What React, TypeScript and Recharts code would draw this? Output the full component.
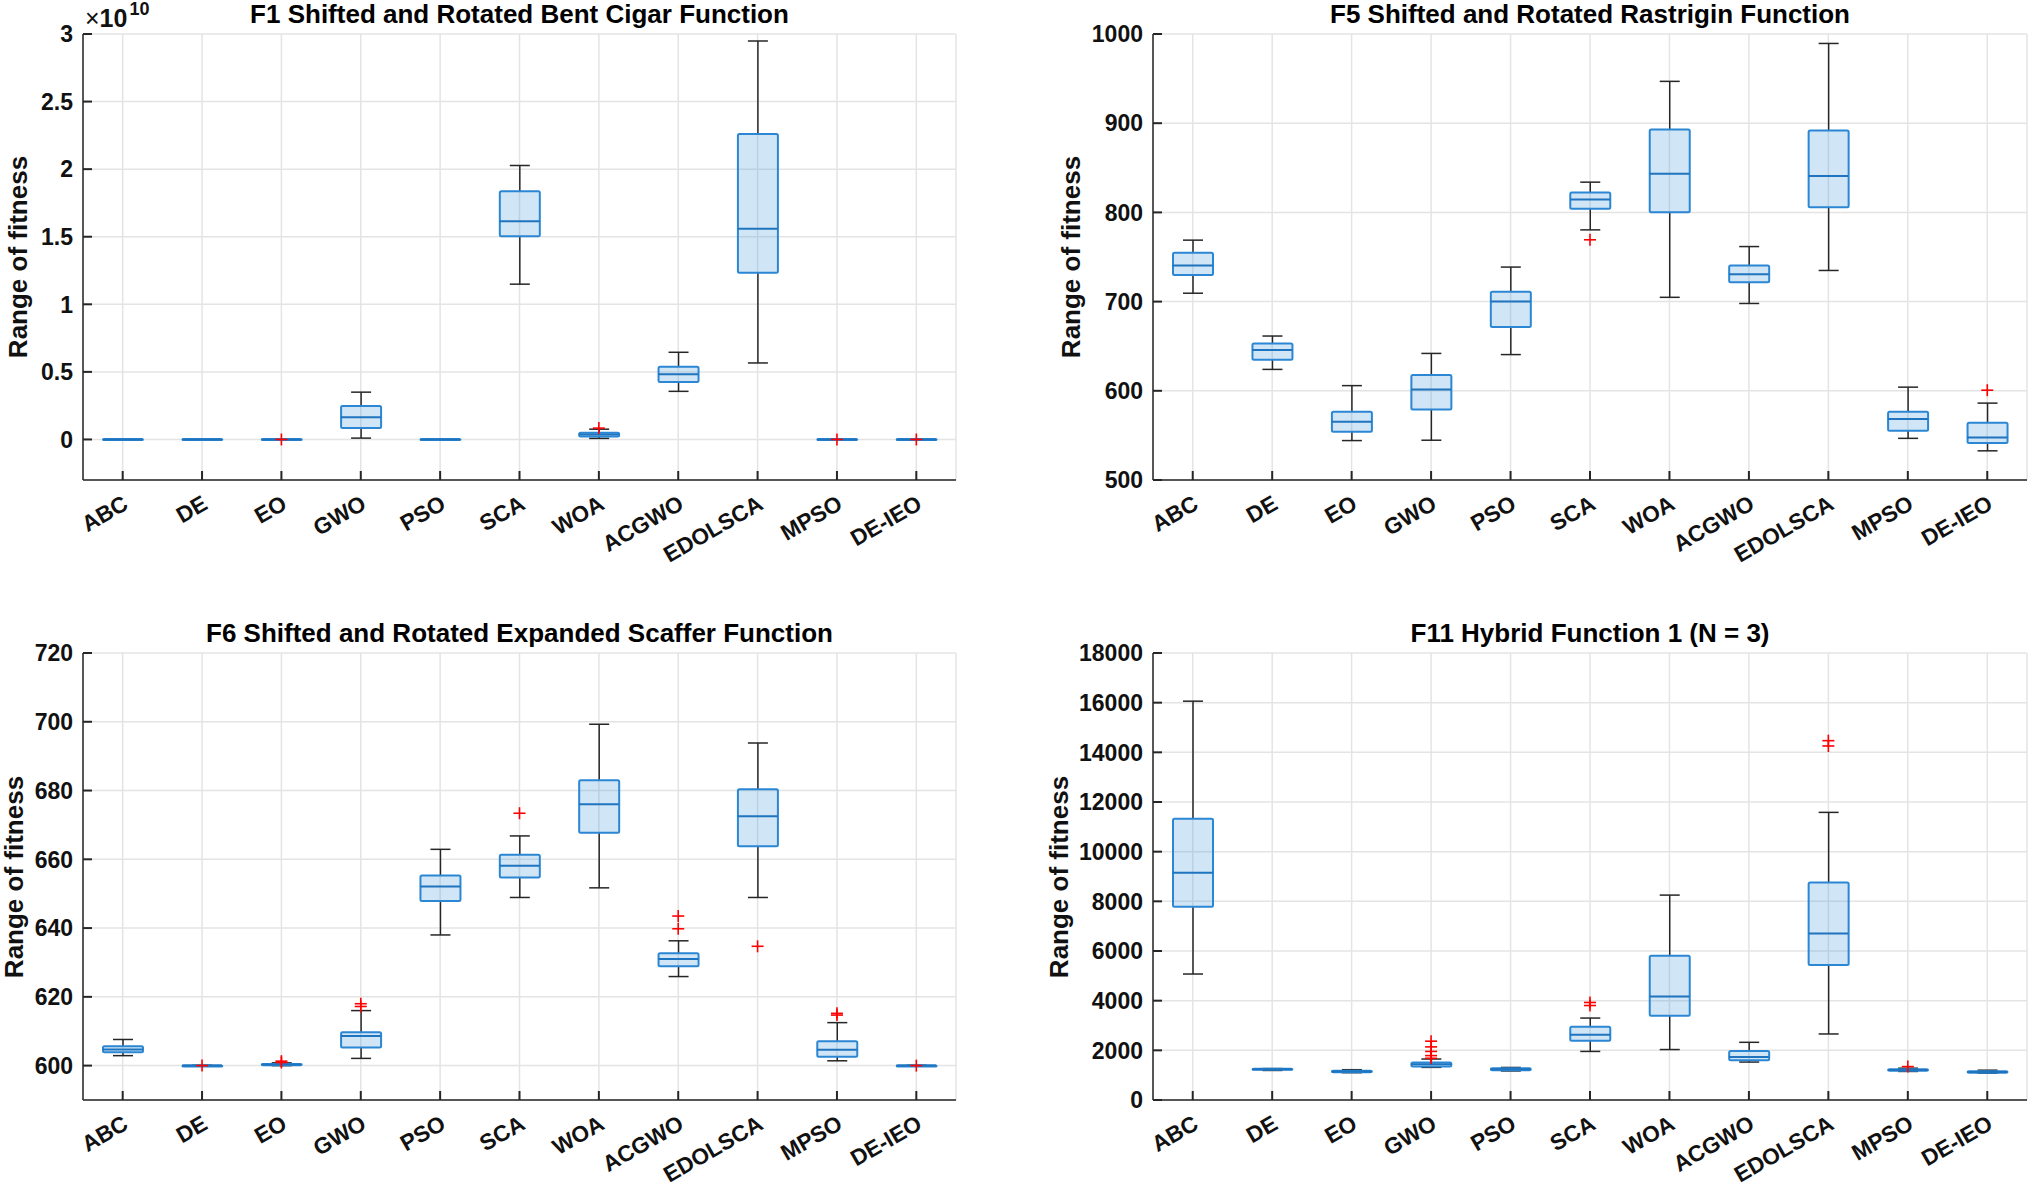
import React from "react";
import { ComposedChart, Bar, Scatter, XAxis, YAxis, CartesianGrid } from "recharts";

const categories = ["ABC", "DE", "EO", "GWO", "PSO", "SCA", "WOA", "ACGWO", "EDOLSCA", "MPSO", "DE-IEO"];

// F1 values are in units of 1e10
const f1Min = [-0.004, -0.004, -0.004, 0.01, -0.004, 1.149, 0.008, 0.356, 0.566, -0.004, -0.004];
const f1Q1 = [-0.003, -0.003, -0.003, 0.084, -0.003, 1.503, 0.022, 0.426, 1.233, -0.003, -0.003];
const f1Med = [0, 0, 0, 0.165, 0, 1.615, 0.036, 0.482, 1.559, 0, 0];
const f1Q3 = [0.003, 0.003, 0.003, 0.247, 0.003, 1.836, 0.05, 0.538, 2.26, 0.003, 0.003];
const f1Max = [0.004, 0.004, 0.004, 0.35, 0.004, 2.027, 0.076, 0.645, 2.949, 0.004, 0.004];
const f1Outliers = [[], [], [0], [], [], [], [0.084], [], [], [0], [0]];
const f1Ticks = [0, 0.5, 1, 1.5, 2, 2.5, 3];

const f5Min = [709.4, 624.0, 544.2, 544.6, 640.6, 780.4, 704.8, 697.9, 734.9, 546.7, 532.7];
const f5Q1 = [729.8, 634.7, 554.0, 579.0, 671.6, 804.2, 800.3, 721.8, 805.9, 555.2, 541.6];
const f5Med = [740.4, 645.7, 565.4, 601.5, 700.1, 814.4, 843.2, 730.7, 840.7, 568.4, 547.6];
const f5Q3 = [754.9, 652.9, 576.5, 617.7, 711.1, 822.4, 892.9, 740.4, 891.7, 576.5, 564.2];
const f5Max = [768.9, 661.4, 605.8, 641.9, 738.7, 833.9, 946.9, 761.7, 989.4, 604.1, 586.2];
const f5Outliers = [[], [], [], [], [], [769.3], [], [], [], [], [600.7]];
const f5Ticks = [500, 600, 700, 800, 900, 1000];

const f6Min = [602.9, 599.9, 600.0, 602.1, 638.0, 648.9, 651.7, 625.9, 648.9, 601.4, 599.9];
const f6Q1 = [603.9, 599.95, 600.1, 605.3, 647.9, 654.7, 667.7, 628.9, 663.8, 602.6, 599.95];
const f6Med = [604.7, 600, 600.3, 608.6, 652.1, 658.1, 676.0, 631.0, 672.5, 604.6, 600];
const f6Q3 = [605.6, 600.05, 600.5, 609.7, 655.3, 661.3, 683.0, 632.7, 680.4, 607.1, 600.05];
const f6Max = [607.6, 600.1, 600.8, 616.0, 662.9, 666.8, 699.3, 636.3, 693.8, 612.5, 600.1];
const f6Outliers = [[], [600], [601.3, 600.9], [618.0, 617.2], [], [673.4], [], [643.5, 639.8], [634.7], [615.2, 614.7], [600]];
const f6Ticks = [600, 620, 640, 660, 680, 700, 720];

const f11Min = [5073, 1190, 1100, 1314, 1170, 1956, 2032, 1528, 2659, 1150, 1080];
const f11Q1 = [7778, 1215, 1120, 1345, 1200, 2384, 3392, 1604, 5440, 1180, 1100];
const f11Med = [9153, 1235, 1150, 1436, 1240, 2628, 4171, 1727, 6708, 1210, 1130];
const f11Q3 = [11323, 1255, 1180, 1513, 1275, 2949, 5806, 1971, 8755, 1240, 1160];
const f11Max = [16060, 1265, 1220, 1650, 1310, 3300, 8251, 2323, 11582, 1280, 1200];
const f11Outliers = [[], [], [], [2368, 2139, 1956, 1788, 1681], [], [3927, 3805], [], [], [14470, 14256], [1345], []];
const f11Ticks = [0, 2000, 4000, 6000, 8000, 10000, 12000, 14000, 16000, 18000];

const FONT = "'Liberation Sans', Arial, sans-serif";
const AXIS = "#262626";
const GRID = "#e4e4e4";
const BLUE = "#2b87d3";

const WhiskerShape = (p: any) => {
  const { x, y, width, height, payload } = p;
  const top = Math.min(y, y + height);
  const bot = Math.max(y, y + height);
  const [lo, hi] = payload.whisker;
  const pix = (v: number) => bot - ((v - lo) / (hi - lo)) * (bot - top);
  const cx = x + width / 2;
  return (
    <g>
      <line x1={cx} x2={cx} y1={top} y2={pix(payload.q3)} stroke={AXIS} strokeWidth={1.5} />
      <line x1={cx} x2={cx} y1={pix(payload.q1)} y2={bot} stroke={AXIS} strokeWidth={1.5} />
      <line x1={x} x2={x + width} y1={top} y2={top} stroke={AXIS} strokeWidth={1.5} />
      <line x1={x} x2={x + width} y1={bot} y2={bot} stroke={AXIS} strokeWidth={1.5} />
    </g>
  );
};

const BoxShape = (p: any) => {
  const { x, y, width, height } = p;
  const top = Math.min(y, y + height);
  const h = Math.max(Math.abs(height), 1);
  return <rect x={x} y={top} width={width} height={h} fill={BLUE} fillOpacity={0.22} stroke={BLUE} strokeWidth={2} rx={1.5} />;
};

const MedianShape = (p: any) => {
  const { cx, cy } = p;
  return <line x1={cx - 20} x2={cx + 20} y1={cy} y2={cy} stroke="#1f74c0" strokeWidth={2} />;
};

const PlusShape = (p: any) => {
  const { cx, cy } = p;
  return (
    <g stroke="#ff0000" strokeWidth={1.6}>
      <line x1={cx - 6} x2={cx + 6} y1={cy} y2={cy} />
      <line x1={cx} x2={cx} y1={cy - 6} y2={cy + 6} />
    </g>
  );
};

const LeftTick = (p: any) => {
  const { x, y, payload } = p;
  return (
    <g>
      <line x1={x + 10} x2={x + 19} y1={y} y2={y} stroke={AXIS} strokeWidth={2} />
      <text x={x} y={y} dy="0.36em" textAnchor="end" fontFamily={FONT} fontWeight="bold" fontSize={23} fill="#111">
        {payload.value}
      </text>
    </g>
  );
};

const RightTick = (p: any) => {
  const { x, y } = p;
  return <line x1={x} x2={x - 9} y1={y} y2={y} stroke={AXIS} strokeWidth={2} />;
};

const BottomTick = (p: any) => {
  const { x, y, payload } = p;
  return (
    <g>
      <line x1={x} x2={x} y1={y} y2={y - 9} stroke={AXIS} strokeWidth={2} />
      <text
        transform={`translate(${x + 7},${y + 28}) rotate(-30)`}
        textAnchor="end"
        fontFamily={FONT}
        fontWeight="bold"
        fontSize={22.5}
        fill="#111"
      >
        {payload.value}
      </text>
    </g>
  );
};

const TopTick = (p: any) => {
  const { x, y } = p;
  return <line x1={x} x2={x} y1={y} y2={y + 9} stroke={AXIS} strokeWidth={2} />;
};

type PanelProps = {
  title: string;
  left: number;
  top: number;
  width: number;
  height: number;
  margin: { top: number; right: number; bottom: number; left: number };
  yAxisWidth: number;
  xAxisHeight: number;
  labelX: number;
  mins: number[];
  q1s: number[];
  meds: number[];
  q3s: number[];
  maxs: number[];
  outliers: number[][];
  domain: [number, number];
  ticks: number[];
  exponent?: boolean;
};

function Panel(props: PanelProps) {
  const { title, left, top, width, height, margin, yAxisWidth, xAxisHeight, labelX, domain, ticks } = props;
  const data = categories.map((name, i) => ({
    name,
    whisker: [props.mins[i], props.maxs[i]],
    box: [props.q1s[i], props.q3s[i]],
    q1: props.q1s[i],
    q3: props.q3s[i],
    med: props.meds[i],
  }));
  const outlierData = categories.flatMap((name, i) => props.outliers[i].map((v) => ({ name, out: v })));

  const plotLeft = left + margin.left + yAxisWidth;
  const plotRight = left + width - margin.right;
  const plotTop = top + margin.top;
  const plotBottom = top + height - margin.bottom - xAxisHeight;

  return (
    <>
      <div
        style={{
          position: "absolute",
          left: plotLeft,
          width: plotRight - plotLeft,
          top: plotTop - 33,
          textAlign: "center",
          fontFamily: FONT,
          fontWeight: "bold",
          fontSize: 26,
          lineHeight: "26px",
          color: "#000",
          whiteSpace: "nowrap",
        }}
      >
        {title}
      </div>
      <div
        style={{
          position: "absolute",
          left: labelX,
          top: (plotTop + plotBottom) / 2,
          transform: "translate(-50%, -50%) rotate(-90deg)",
          fontFamily: FONT,
          fontWeight: "bold",
          fontSize: 26,
          lineHeight: "26px",
          color: "#111",
          whiteSpace: "nowrap",
        }}
      >
        Range of fitness
      </div>
      {props.exponent && (
        <div
          style={{
            position: "absolute",
            left: plotLeft + 2,
            top: plotTop - 28,
            fontFamily: FONT,
            fontSize: 25,
            lineHeight: "25px",
            color: "#111",
            whiteSpace: "nowrap",
          }}
        >
          ×<span style={{ fontWeight: "bold" }}>10</span>
          <span style={{ fontSize: 18, position: "relative", top: -12, marginLeft: 2, fontWeight: "bold" }}>10</span>
        </div>
      )}
      <div style={{ position: "absolute", left, top }}>
        <ComposedChart width={width} height={height} data={data} margin={margin} style={{ overflow: "visible" }}>
          <CartesianGrid stroke={GRID} strokeWidth={1.5} />
          <XAxis
            dataKey="name"
            type="category"
            allowDuplicatedCategory={false}
            interval={0}
            height={xAxisHeight}
            tickSize={0}
            tickMargin={0}
            tickLine={false}
            axisLine={{ stroke: AXIS, strokeWidth: 1.5 }}
            tick={<BottomTick />}
          />
          <XAxis
            xAxisId="top"
            dataKey="name"
            orientation="top"
            interval={0}
            height={0}
            tickSize={0}
            tickMargin={0}
            tickLine={false}
            axisLine={{ stroke: AXIS, strokeWidth: 1.5 }}
            tick={<TopTick />}
          />
          <YAxis
            type="number"
            domain={domain}
            ticks={ticks}
            allowDataOverflow
            width={yAxisWidth}
            tickSize={0}
            tickMargin={10}
            tickLine={false}
            axisLine={{ stroke: AXIS, strokeWidth: 1.5 }}
            tick={<LeftTick />}
          />
          <YAxis
            yAxisId="right"
            orientation="right"
            type="number"
            domain={domain}
            ticks={ticks}
            allowDataOverflow
            width={0}
            tickSize={0}
            tickMargin={0}
            tickLine={false}
            axisLine={{ stroke: AXIS, strokeWidth: 1.5 }}
            tick={<RightTick />}
          />
          <Bar xAxisId="top" dataKey="whisker" barSize={20} shape={<WhiskerShape />} isAnimationActive={false} />
          <Bar dataKey="box" barSize={40} shape={<BoxShape />} isAnimationActive={false} />
          <Scatter dataKey="med" shape={<MedianShape />} isAnimationActive={false} />
          <Scatter data={outlierData} dataKey="out" shape={<PlusShape />} isAnimationActive={false} />
        </ComposedChart>
      </div>
    </>
  );
}

export default function App() {
  return (
    <div style={{ position: "absolute", left: 0, top: 0, width: 2032, height: 1188, background: "#fff", overflow: "hidden" }}>
      <Panel
        title="F1 Shifted and Rotated Bent Cigar Function"
        left={0}
        top={0}
        width={1016}
        height={594}
        margin={{ top: 34, right: 60, bottom: 0, left: 0 }}
        yAxisWidth={83}
        xAxisHeight={114}
        labelX={18}
        mins={f1Min}
        q1s={f1Q1}
        meds={f1Med}
        q3s={f1Q3}
        maxs={f1Max}
        outliers={f1Outliers}
        domain={[-0.3, 3]}
        ticks={f1Ticks}
        exponent
      />
      <Panel
        title="F5 Shifted and Rotated Rastrigin Function"
        left={1016}
        top={0}
        width={1016}
        height={594}
        margin={{ top: 34, right: 5, bottom: 0, left: 0 }}
        yAxisWidth={137}
        xAxisHeight={114}
        labelX={1071}
        mins={f5Min}
        q1s={f5Q1}
        meds={f5Med}
        q3s={f5Q3}
        maxs={f5Max}
        outliers={f5Outliers}
        domain={[500, 1000]}
        ticks={f5Ticks}
      />
      <Panel
        title="F6 Shifted and Rotated Expanded Scaffer Function"
        left={0}
        top={594}
        width={1016}
        height={594}
        margin={{ top: 59, right: 60, bottom: 0, left: 0 }}
        yAxisWidth={83}
        xAxisHeight={88}
        labelX={14}
        mins={f6Min}
        q1s={f6Q1}
        meds={f6Med}
        q3s={f6Q3}
        maxs={f6Max}
        outliers={f6Outliers}
        domain={[590, 720]}
        ticks={f6Ticks}
      />
      <Panel
        title="F11 Hybrid Function 1 (N = 3)"
        left={1016}
        top={594}
        width={1016}
        height={594}
        margin={{ top: 59, right: 5, bottom: 0, left: 0 }}
        yAxisWidth={137}
        xAxisHeight={88}
        labelX={1059}
        mins={f11Min}
        q1s={f11Q1}
        meds={f11Med}
        q3s={f11Q3}
        maxs={f11Max}
        outliers={f11Outliers}
        domain={[0, 18000]}
        ticks={f11Ticks}
      />
    </div>
  );
}
